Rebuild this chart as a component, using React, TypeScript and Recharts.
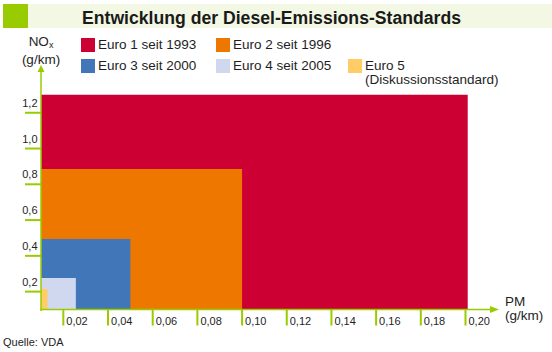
import React from 'react'
import {
  ComposedChart,
  XAxis,
  YAxis,
  Scatter,
  ReferenceArea,
  ReferenceLine,
} from 'recharts'

const standards = ['Euro 1 seit 1993', 'Euro 2 seit 1996', 'Euro 3 seit 2000', 'Euro 4 seit 2005', 'Euro 5']
const standardNotes = ['', '', '', '', '(Diskussionsstandard)']
const pmLimits = [0.201, 0.1, 0.05, 0.0256, 0.0129]
const noxLimits = [1.3, 0.885, 0.494, 0.276, 0.215]
const colors = ['#cc0033', '#ee7700', '#4177b8', '#d0d8f0', '#ffcc66']

const pmTicks = [0.02, 0.04, 0.06, 0.08, 0.1, 0.12, 0.14, 0.16, 0.18, 0.2]
const noxTicks = [0.2, 0.4, 0.6, 0.8, 1.0, 1.2]
const pmOrigin = 0.01
const noxOrigin = 0.1

const GREEN = '#99cc00'
const FONT = '"Liberation Sans", Arial, sans-serif'
const TEXT = '#1e1e1e'

const fmt = (v: number, d: number) => v.toFixed(d).replace('.', ',')

// eslint-disable-next-line @typescript-eslint/no-explicit-any
function XTick({ x, y, payload }: any) {
  return (
    <g>
      <line x1={x} y1={y} x2={x} y2={y + 16} stroke={GREEN} strokeWidth={2} />
      <text x={x + 3} y={y + 15.5} fontSize={11} fill={TEXT} fontFamily={FONT}>
        {fmt(payload.value, 2)}
      </text>
    </g>
  )
}

// eslint-disable-next-line @typescript-eslint/no-explicit-any
function YTick({ x, y, payload }: any) {
  return (
    <g>
      <line x1={x - 16} y1={y} x2={x} y2={y} stroke={GREEN} strokeWidth={2} />
      <text x={x - 3.5} y={y - 6} fontSize={11} fill={TEXT} fontFamily={FONT} textAnchor="end">
        {fmt(payload.value, 1)}
      </text>
    </g>
  )
}

// eslint-disable-next-line @typescript-eslint/no-explicit-any
function ArrowUp(props: any) {
  const { x1, y1, y2 } = props
  return (
    <g>
      <line x1={x1} y1={y1 + 1.5} x2={x1} y2={y2 + 6} stroke={GREEN} strokeWidth={1.5} />
      <polygon points={`${x1 - 3.5},${y2 + 7} ${x1 + 3.5},${y2 + 7} ${x1},${y2}`} fill={GREEN} />
    </g>
  )
}

// eslint-disable-next-line @typescript-eslint/no-explicit-any
function ArrowRight(props: any) {
  const { x1, y1, x2 } = props
  return (
    <g>
      <line x1={x1 - 0.5} y1={y1} x2={x2 - 8} y2={y1} stroke={GREEN} strokeWidth={1.5} />
      <polygon points={`${x2 - 9},${y1 - 3.5} ${x2 - 9},${y1 + 3.5} ${x2},${y1}`} fill={GREEN} />
    </g>
  )
}

const legendPos = [
  [81, 38],
  [216, 38],
  [81, 59],
  [216, 59],
  [348, 59],
]

export default function App() {
  const points = standards.map((name, i) => ({ name, pm: pmLimits[i], nox: noxLimits[i] }))
  const pmMax = 0.215
  const noxMax = 1.467

  return (
    <div style={{ position: 'absolute', left: 0, top: 0, width: 552, height: 352, background: '#fff', fontFamily: FONT, color: TEXT }}>
      <svg width={552} height={32} style={{ position: 'absolute', left: 0, top: 0 }}>
        <rect x={28} y={4} width={524} height={24} fill="#f3f8e4" />
        <rect x={3} y={4} width={25} height={24} fill={GREEN} />
        <text x={82} y={24} fontSize={17.5} fontWeight="bold" fill="#1a1a1a" fontFamily={FONT} textLength={379} lengthAdjust="spacingAndGlyphs">
          Entwicklung der Diesel-Emissions-Standards
        </text>
      </svg>

      <div style={{ position: 'absolute', left: 19, top: 35, width: 44, textAlign: 'center', fontSize: 13.5, lineHeight: '13.5px' }}>
        NO<sub style={{ fontSize: 9, verticalAlign: '-2px' }}>x</sub>
        <br />
        (g/km)
      </div>

      {standards.map((name, i) => (
        <div key={name} style={{ position: 'absolute', left: legendPos[i][0], top: legendPos[i][1], display: 'flex', alignItems: 'flex-start' }}>
          <div style={{ width: 14, height: 14, background: colors[i], marginRight: 3 }} />
          <div style={{ fontSize: 13.5, lineHeight: '14.5px', marginTop: -0.5 }}>
            {name}
            {standardNotes[i] && (
              <>
                <br />
                {standardNotes[i]}
              </>
            )}
          </div>
        </div>
      ))}

      <div style={{ position: 'absolute', left: 505, top: 295, fontSize: 13.5, lineHeight: '14px' }}>
        PM
        <br />
        (g/km)
      </div>

      <div style={{ position: 'absolute', left: 3, top: 336, fontSize: 11 }}>Quelle: VDA</div>

      <div style={{ position: 'absolute', left: 0, top: 0 }}>
        <ComposedChart width={552} height={352} margin={{ top: 65, right: 53, bottom: 12.5, left: 0 }}>
          <XAxis
            type="number"
            dataKey="pm"
            domain={[pmOrigin, pmMax]}
            ticks={pmTicks}
            allowDataOverflow
            height={30}
            axisLine={false}
            tickLine={false}
            tickSize={0}
            tickMargin={0}
            tick={<XTick />}
            interval={0}
          />
          <YAxis
            type="number"
            dataKey="nox"
            domain={[noxOrigin, noxMax]}
            ticks={noxTicks}
            allowDataOverflow
            width={41}
            axisLine={false}
            tickLine={false}
            tickSize={0}
            tickMargin={0}
            tick={<YTick />}
            interval={0}
          />
          {standards.map((name, i) => (
            <ReferenceArea
              key={name}
              x1={pmOrigin}
              x2={pmLimits[i]}
              y1={noxOrigin}
              y2={noxLimits[i]}
              fill={colors[i]}
              fillOpacity={1}
              stroke="none"
              ifOverflow="visible"
            />
          ))}
          <Scatter data={points} fill="none" shape={() => <g />} isAnimationActive={false} />
          <ReferenceLine
            segment={[{ x: pmOrigin, y: noxOrigin }, { x: pmOrigin, y: noxMax }]}
            shape={<ArrowUp />}
            ifOverflow="visible"
          />
          <ReferenceLine
            segment={[{ x: pmOrigin, y: noxOrigin }, { x: pmMax, y: noxOrigin }]}
            shape={<ArrowRight />}
            ifOverflow="visible"
          />
        </ComposedChart>
      </div>
    </div>
  )
}
